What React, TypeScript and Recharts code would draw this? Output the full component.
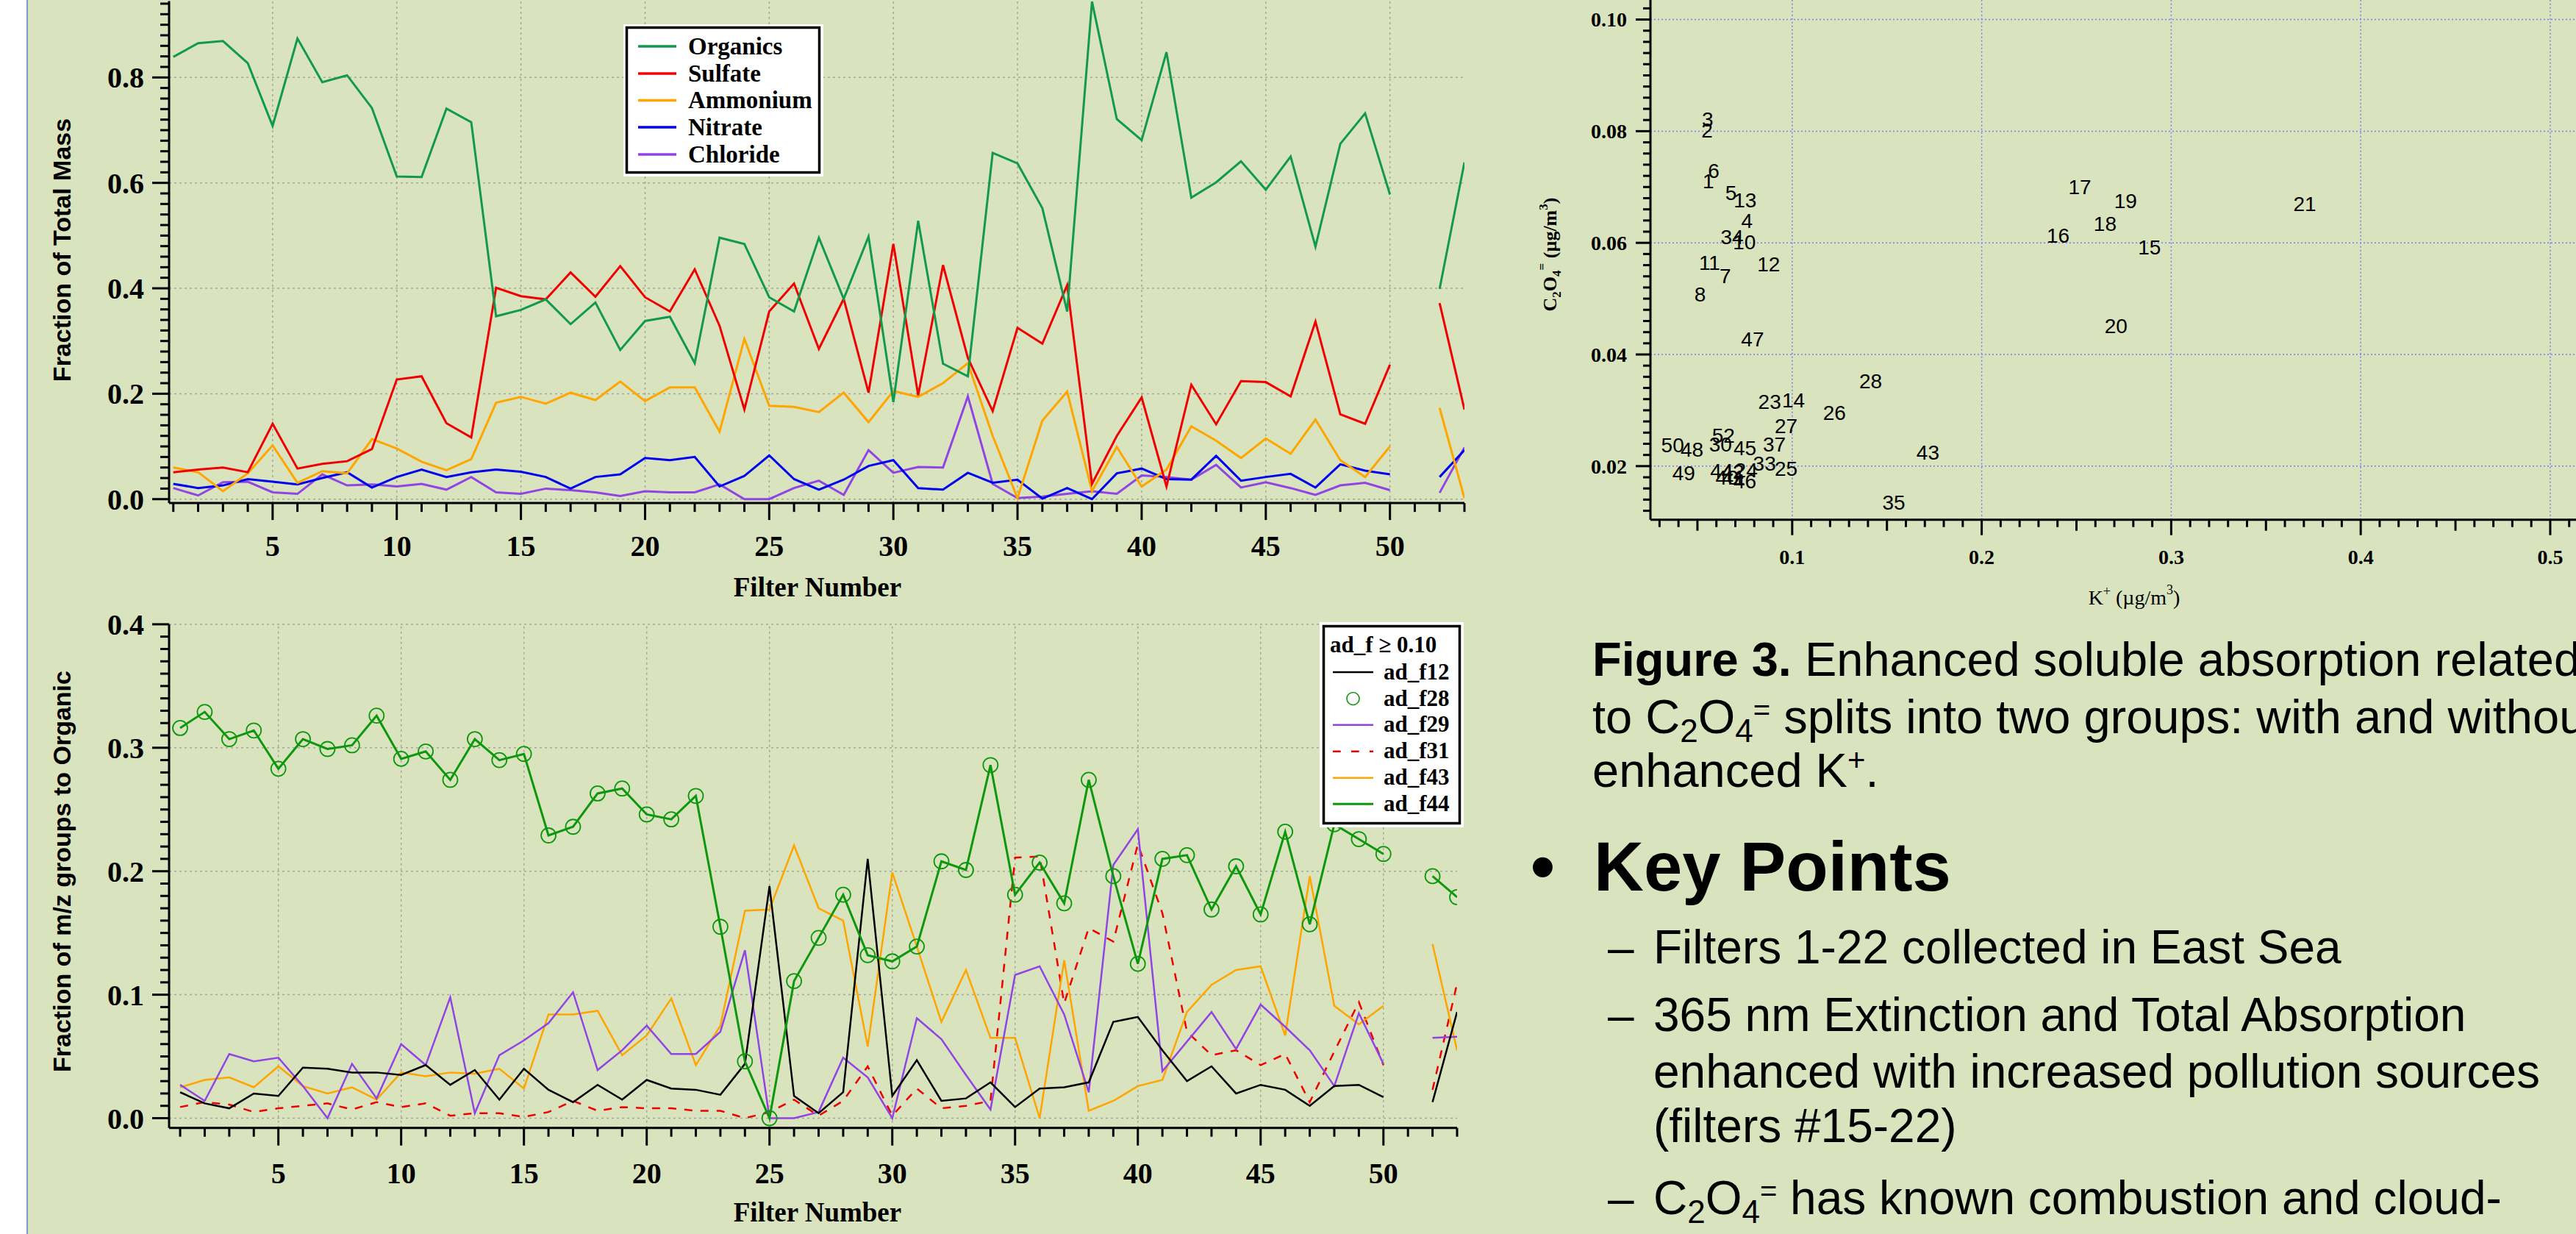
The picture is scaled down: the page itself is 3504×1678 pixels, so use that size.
import React from 'react';
import { ComposedChart, Line, XAxis, YAxis, ReferenceLine, ScatterChart, Scatter } from 'recharts';

const BG = '#d9e4be';
const SERIF = '"Liberation Serif", "Times New Roman", serif';
const SANS = '"Liberation Sans", Arial, sans-serif';

// ---------- data: top chart (fraction of total mass) ----------
const filterNumbers = [1,2,3,4,5,6,7,8,9,10,11,12,13,14,15,16,17,18,19,20,21,22,23,24,25,26,27,28,29,30,31,32,33,34,35,36,37,38,39,40,41,42,43,44,45,46,47,48,49,50,51,52,53];
const organics = [0.839,0.865,0.869,0.827,0.708,0.874,0.791,0.804,0.742,0.612,0.611,0.741,0.715,0.347,0.359,0.379,0.332,0.373,0.283,0.338,0.346,0.258,0.496,0.484,0.383,0.356,0.496,0.380,0.498,0.184,0.528,0.257,0.233,0.657,0.637,0.552,0.356,0.944,0.721,0.681,0.848,0.572,0.601,0.641,0.587,0.650,0.479,0.674,0.732,0.578,null,0.399,0.639];
const sulfate = [0.051,0.056,0.060,0.051,0.143,0.058,0.067,0.072,0.095,0.227,0.233,0.144,0.117,0.401,0.385,0.379,0.430,0.384,0.442,0.383,0.356,0.436,0.329,0.170,0.356,0.409,0.285,0.380,0.202,0.484,0.197,0.444,0.268,0.167,0.325,0.295,0.406,0.029,0.120,0.193,0.024,0.217,0.142,0.224,0.222,0.195,0.337,0.161,0.143,0.255,null,0.372,0.170];
const ammonium = [0.060,0.051,0.015,0.049,0.102,0.031,0.053,0.049,0.114,0.096,0.071,0.055,0.076,0.183,0.194,0.181,0.202,0.188,0.223,0.186,0.212,0.212,0.128,0.304,0.177,0.175,0.165,0.202,0.146,0.205,0.194,0.220,0.258,0.120,0.002,0.149,0.204,0.015,0.099,0.024,0.056,0.138,0.111,0.078,0.115,0.086,0.151,0.074,0.042,0.100,null,0.173,0.002];
const nitrate = [0.029,0.021,0.026,0.038,0.033,0.028,0.040,0.051,0.022,0.042,0.056,0.042,0.051,0.056,0.052,0.042,0.020,0.042,0.047,0.078,0.074,0.080,0.024,0.044,0.083,0.038,0.018,0.037,0.063,0.074,0.021,0.018,0.050,0.031,0.037,0.001,0.021,0.000,0.049,0.058,0.038,0.037,0.082,0.035,0.042,0.048,0.022,0.066,0.054,0.047,null,0.042,0.093];
const chloride = [0.021,0.007,0.032,0.033,0.013,0.010,0.047,0.026,0.028,0.024,0.029,0.018,0.042,0.013,0.010,0.020,0.017,0.013,0.006,0.015,0.013,0.013,0.028,0.000,0.000,0.021,0.035,0.008,0.093,0.050,0.061,0.060,0.195,0.029,0.002,0.005,0.010,0.015,0.010,0.045,0.042,0.037,0.065,0.022,0.032,0.021,0.008,0.026,0.031,0.017,null,0.012,0.098];

// ---------- data: bottom chart (fraction of m/z groups to organic) ----------
const adF12 = [0.021,0.012,0.008,0.020,0.018,0.041,0.040,0.037,0.037,0.035,0.043,0.027,0.039,0.015,0.040,0.023,0.013,0.027,0.015,0.031,0.024,0.023,0.019,0.044,0.188,0.018,0.004,0.021,0.210,0.018,0.047,0.014,0.016,0.029,0.009,0.024,0.025,0.029,0.078,0.082,0.055,0.030,0.042,0.020,0.027,0.023,0.010,0.026,0.027,0.017,null,0.013,0.086];
const adF28 = [0.316,0.329,0.307,0.314,0.283,0.307,0.299,0.302,0.326,0.291,0.297,0.274,0.307,0.290,0.295,0.229,0.236,0.263,0.267,0.246,0.242,0.261,0.155,0.046,0.000,0.111,0.146,0.181,0.132,0.127,0.139,0.208,0.201,0.286,0.181,0.207,0.174,0.274,0.196,0.125,0.210,0.213,0.169,0.204,0.165,0.232,0.157,0.238,0.226,0.214,null,0.196,0.179];
const adF29 = [0.027,0.014,0.052,0.046,0.049,0.026,0.000,0.044,0.016,0.060,0.043,0.098,0.004,0.051,0.063,0.077,0.102,0.039,0.055,0.075,0.052,0.052,0.070,0.136,0.000,0.000,0.005,0.049,0.033,0.000,0.081,0.064,0.035,0.007,0.116,0.123,0.084,0.021,0.205,0.234,0.038,0.062,0.086,0.056,0.092,0.074,0.055,0.026,0.085,0.044,null,0.065,0.066];
const adF31 = [0.009,0.013,0.011,0.005,0.008,0.010,0.012,0.007,0.013,0.009,0.012,0.002,0.004,0.004,0.001,0.005,0.014,0.006,0.009,0.008,0.008,0.006,0.006,0.000,0.005,0.015,0.002,0.014,0.042,0.002,0.024,0.008,0.010,0.014,0.211,0.212,0.093,0.154,0.143,0.222,0.166,0.070,0.051,0.055,0.043,0.052,0.013,0.054,0.094,0.043,null,0.023,0.109];
const adF43 = [0.025,0.031,0.033,0.025,0.042,0.026,0.020,0.025,0.015,0.037,0.034,0.037,0.036,0.040,0.024,0.084,0.084,0.087,0.051,0.067,0.097,0.043,0.075,0.168,0.169,0.221,0.170,0.160,0.058,0.199,0.139,0.078,0.120,0.065,0.065,0.000,0.128,0.006,0.014,0.026,0.031,0.086,0.108,0.120,0.123,0.067,0.196,0.091,0.076,0.091,null,0.141,0.055];
const adF44 = [0.316,0.329,0.307,0.314,0.283,0.307,0.299,0.302,0.326,0.291,0.297,0.274,0.307,0.290,0.295,0.229,0.236,0.263,0.267,0.246,0.242,0.261,0.155,0.046,0.000,0.111,0.146,0.181,0.132,0.127,0.139,0.208,0.201,0.286,0.181,0.207,0.174,0.274,0.196,0.125,0.210,0.213,0.169,0.204,0.165,0.232,0.157,0.238,0.226,0.214,null,0.196,0.179];

// ---------- data: scatter (C2O4= vs K+) ----------
const scatterLabels = ['1','2','3','4','5','6','7','8','10','11','12','13','14','15','16','17','18','19','20','21','23','24','25','26','27','28','30','33','34','35','37','40','41','42','43','44','45','46','47','48','49','50','52'];
const kPlus = [0.0558,0.0551,0.0554,0.0761,0.0677,0.0586,0.0647,0.0514,0.0748,0.0564,0.0876,0.0752,0.1007,0.2885,0.2403,0.2518,0.2651,0.2759,0.2709,0.3705,0.0881,0.0757,0.0968,0.1223,0.0968,0.1414,0.0622,0.0854,0.0683,0.1536,0.0906,0.0656,0.0691,0.0687,0.1716,0.0628,0.0751,0.0751,0.0791,0.0471,0.0428,0.0369,0.0637];
const oxalate = [0.0711,0.0802,0.0822,0.0640,0.0690,0.0730,0.0541,0.0508,0.0602,0.0565,0.0562,0.0677,0.0319,0.0593,0.0614,0.0701,0.0634,0.0676,0.0452,0.0670,0.0316,0.0193,0.0196,0.0296,0.0272,0.0353,0.0240,0.0205,0.0611,0.0135,0.0240,0.0180,0.0180,0.0191,0.0225,0.0192,0.0233,0.0173,0.0428,0.0230,0.0188,0.0238,0.0255];

// ---------- tick labels ----------
const topYMajor = [0, 0.2, 0.4, 0.6, 0.8];
const botYMajor = [0, 0.1, 0.2, 0.3, 0.4];
const filterMajor = [5, 10, 15, 20, 25, 30, 35, 40, 45, 50];
const scatYMajor = [0.02, 0.04, 0.06, 0.08, 0.1];
const scatXMajor = [0.1, 0.2, 0.3, 0.4, 0.5];
const scatXMid = [0.05, 0.15, 0.25, 0.35, 0.45];

const topYTicks = Array.from({ length: 48 }, (_, i) => Math.round(i * 2) / 100);
const botYTicks = Array.from({ length: 41 }, (_, i) => i / 100);
const scatYTicks = Array.from({ length: 46 }, (_, i) => (12 + 2 * i) / 1000);
const scatXTicks = Array.from({ length: 49 }, (_, i) => (3 + i) / 100);

const topData = filterNumbers.map((f, i) => ({ f, organics: organics[i], sulfate: sulfate[i], ammonium: ammonium[i], nitrate: nitrate[i], chloride: chloride[i] }));
const botData = filterNumbers.map((f, i) => ({ f, f12: adF12[i], f28: adF28[i], f29: adF29[i], f31: adF31[i], f43: adF43[i], f44: adF44[i] }));
const scatData = scatterLabels.map((label, i) => ({ label, k: kPlus[i], c: oxalate[i] }));

const has = (arr: number[] | undefined, v: number) => !!arr && arr.some((m) => Math.abs(m - v) < 1e-7);

type Cfg = { majors: number[]; mids?: number[]; majorLen: number; midLen?: number; minorLen: number; gap: number; fontSize: number; fmt: (v: number) => string };

const makeYTick = (cfg: Cfg) => (props: any) => {
  const { x, y, payload } = props;
  const v = payload.value as number;
  const major = has(cfg.majors, v);
  const mid = has(cfg.mids, v);
  const len = major ? cfg.majorLen : mid ? (cfg.midLen || cfg.minorLen) : cfg.minorLen;
  return (
    <g>
      <line x1={x - len} x2={x} y1={y} y2={y} stroke="#000" strokeWidth={3} />
      {major && (
        <text x={x - cfg.gap} y={y} dy="0.35em" textAnchor="end" fontFamily={SERIF} fontWeight="bold" fontSize={cfg.fontSize} fill="#000">
          {cfg.fmt(v)}
        </text>
      )}
    </g>
  );
};

const makeXTick = (cfg: Cfg) => (props: any) => {
  const { x, y, payload } = props;
  const v = payload.value as number;
  const major = has(cfg.majors, v);
  const mid = has(cfg.mids, v);
  const len = major ? cfg.majorLen : mid ? (cfg.midLen || cfg.minorLen) : cfg.minorLen;
  return (
    <g>
      <line x1={x} x2={x} y1={y} y2={y + len} stroke="#000" strokeWidth={3} />
      {major && (
        <text x={x} y={y + cfg.gap} dy="0.35em" textAnchor="middle" fontFamily={SERIF} fontWeight="bold" fontSize={cfg.fontSize} fill="#000">
          {cfg.fmt(v)}
        </text>
      )}
    </g>
  );
};

const topYTick = makeYTick({ majors: topYMajor, majorLen: 23, minorLen: 12, gap: 34, fontSize: 40, fmt: (v) => v.toFixed(1) });
const botYTick = makeYTick({ majors: botYMajor, majorLen: 23, minorLen: 12, gap: 34, fontSize: 40, fmt: (v) => v.toFixed(1) });
const filterTickTop = makeXTick({ majors: filterMajor, majorLen: 23, minorLen: 12, gap: 58, fontSize: 40, fmt: (v) => String(v) });
const filterTickBot = makeXTick({ majors: filterMajor, majorLen: 24, minorLen: 12, gap: 61, fontSize: 40, fmt: (v) => String(v) });
const scatYTick = makeYTick({ majors: scatYMajor, majorLen: 20, minorLen: 10, gap: 32, fontSize: 28, fmt: (v) => v.toFixed(2) });
const scatXTick = makeXTick({ majors: scatXMajor, mids: scatXMid, majorLen: 21, midLen: 15, minorLen: 10, gap: 50, fontSize: 28, fmt: (v) => v.toFixed(1) });

const grayGrid = { stroke: '#a3a89a', strokeDasharray: '3 4', strokeWidth: 1.5 };
const blueGrid = { stroke: '#7c7cf2', strokeDasharray: '2 3', strokeWidth: 1.5 };
const axisLine = { stroke: '#000', strokeWidth: 3 };

const C_ORG = '#13994e';
const C_RED = '#f00000';
const C_ORANGE = '#ffa500';
const C_BLUE = '#0000f0';
const C_PURPLE = '#9144e4';
const C_GREEN = '#0d970d';

const LabelShape = (p: any) => (
  <text x={p.cx} y={p.cy} dy="0.36em" textAnchor="middle" fontFamily={SANS} fontSize={28} fill="#000">
    {p.payload.label}
  </text>
);

const Sub = ({ children, size, shift }: any) => (
  <tspan fontSize={size} dy={shift}>{children}</tspan>
);

export default function App() {
  const topLegend = [
    { name: 'Organics', color: C_ORG },
    { name: 'Sulfate', color: C_RED },
    { name: 'Ammonium', color: C_ORANGE },
    { name: 'Nitrate', color: C_BLUE },
    { name: 'Chloride', color: C_PURPLE },
  ];
  const topLegendY = [63, 100, 136.5, 173, 210];
  const botLegendY = [914, 950, 985.7, 1021.7, 1057.7, 1093.3];
  return (
    <div style={{ position: 'absolute', left: 0, top: 0, width: 3504, height: 1678, background: BG, overflow: 'hidden' }}>
      {/* top chart */}
      <div style={{ position: 'absolute', left: 0, top: 0 }}>
        <ComposedChart width={2000} height={830} data={topData} margin={{ top: 1.4, right: 8, left: 0, bottom: 0 }}>
          <XAxis dataKey="f" type="number" domain={[0.83, 53]} allowDataOverflow ticks={filterNumbers} interval={0} tickSize={0} tickMargin={0} tick={filterTickTop} axisLine={axisLine} tickLine={false} height={145.9} />
          <YAxis type="number" domain={[-0.0075, 0.945]} allowDataOverflow ticks={topYTicks} interval={0} tickSize={0} tickMargin={0} tick={topYTick} axisLine={axisLine} tickLine={false} width={230} />
          {filterMajor.map((v) => <ReferenceLine key={'tx' + v} x={v} {...grayGrid} />)}
          {topYMajor.map((v) => <ReferenceLine key={'ty' + v} y={v} {...grayGrid} />)}
          <Line dataKey="chloride" stroke={C_PURPLE} strokeWidth={3} dot={false} isAnimationActive={false} type="linear" />
          <Line dataKey="nitrate" stroke={C_BLUE} strokeWidth={3} dot={false} isAnimationActive={false} type="linear" />
          <Line dataKey="ammonium" stroke={C_ORANGE} strokeWidth={3} dot={false} isAnimationActive={false} type="linear" />
          <Line dataKey="sulfate" stroke={C_RED} strokeWidth={3} dot={false} isAnimationActive={false} type="linear" />
          <Line dataKey="organics" stroke={C_ORG} strokeWidth={3} dot={false} isAnimationActive={false} type="linear" />
        </ComposedChart>
      </div>

      {/* bottom chart */}
      <div style={{ position: 'absolute', left: 0, top: 800 }}>
        <ComposedChart width={2000} height={878} data={botData} margin={{ top: 48.9, right: 18, left: 0, bottom: 0 }}>
          <XAxis dataKey="f" type="number" domain={[0.55, 53]} allowDataOverflow ticks={filterNumbers} interval={0} tickSize={0} tickMargin={0} tick={filterTickBot} axisLine={axisLine} tickLine={false} height={144.3} />
          <YAxis type="number" domain={[-0.00786, 0.4]} allowDataOverflow ticks={botYTicks} interval={0} tickSize={0} tickMargin={0} tick={botYTick} axisLine={axisLine} tickLine={false} width={230} />
          {filterMajor.map((v) => <ReferenceLine key={'bx' + v} x={v} {...grayGrid} />)}
          {botYMajor.map((v) => <ReferenceLine key={'by' + v} y={v} {...grayGrid} />)}
          <Line dataKey="f31" stroke={C_RED} strokeWidth={2.5} strokeDasharray="11 11" dot={false} isAnimationActive={false} type="linear" />
          <Line dataKey="f43" stroke={C_ORANGE} strokeWidth={2.5} dot={false} isAnimationActive={false} type="linear" />
          <Line dataKey="f29" stroke={C_PURPLE} strokeWidth={2.5} dot={false} isAnimationActive={false} type="linear" />
          <Line dataKey="f12" stroke="#000" strokeWidth={2.5} dot={false} isAnimationActive={false} type="linear" />
          <Line dataKey="f44" stroke={C_GREEN} strokeWidth={3} dot={false} isAnimationActive={false} type="linear" />
          <Line dataKey="f28" stroke="none" dot={{ r: 10, stroke: C_GREEN, strokeWidth: 1.8, fill: 'none' }} isAnimationActive={false} type="linear" />
        </ComposedChart>
      </div>

      {/* scatter */}
      <div style={{ position: 'absolute', left: 2000, top: 0 }}>
        <ScatterChart width={1504} height={830} margin={{ top: 0, right: 0, left: 0, bottom: 0 }}>
          <XAxis dataKey="k" type="number" domain={[0.0252, 0.5136]} allowDataOverflow ticks={scatXTicks} interval={0} tickSize={0} tickMargin={0} tick={scatXTick} axisLine={axisLine} tickLine={false} height={123.3} />
          <YAxis dataKey="c" type="number" domain={[0.0104, 0.1035]} allowDataOverflow ticks={scatYTicks} interval={0} tickSize={0} tickMargin={0} tick={scatYTick} axisLine={axisLine} tickLine={false} width={245} />
          {scatXMajor.map((v) => <ReferenceLine key={'sx' + v} x={v} {...blueGrid} />)}
          {scatYMajor.map((v) => <ReferenceLine key={'sy' + v} y={v} {...blueGrid} />)}
          <Scatter data={scatData} shape={LabelShape} isAnimationActive={false} />
        </ScatterChart>
      </div>

      {/* overlay: frame, titles, legends, text */}
      <svg width={3504} height={1678} style={{ position: 'absolute', left: 0, top: 0, pointerEvents: 'none' }}>
        <rect x={0} y={0} width={36} height={1678} fill="#ffffff" />
        <line x1={37} x2={37} y1={0} y2={1678} stroke="#7b9bcb" strokeWidth={2} />

        {/* axis titles */}
        <text x={1112} y={811} textAnchor="middle" fontFamily={SERIF} fontWeight="bold" fontSize={37}>Filter Number</text>
        <text x={1112} y={1661} textAnchor="middle" fontFamily={SERIF} fontWeight="bold" fontSize={37}>Filter Number</text>
        <text transform="translate(96,340) rotate(-90)" textAnchor="middle" fontFamily={SANS} fontWeight="bold" fontSize={34}>Fraction of Total Mass</text>
        <text transform="translate(96,1185) rotate(-90)" textAnchor="middle" fontFamily={SANS} fontWeight="bold" fontSize={34}>Fraction of m/z groups to Organic</text>

        {/* top legend */}
        <rect x={848} y={33} width={272} height={207} fill="#ffffff" />
        <rect x={852.5} y={37.5} width={262} height={197} fill="#ffffff" stroke="#000" strokeWidth={3.5} />
        {topLegend.map((it, i) => (
          <g key={it.name}>
            <line x1={868} x2={920} y1={topLegendY[i]} y2={topLegendY[i]} stroke={it.color} strokeWidth={3.5} />
            <text x={936} y={topLegendY[i] + 10.5} fontFamily={SERIF} fontWeight="bold" fontSize={33}>{it.name}</text>
          </g>
        ))}

        {/* bottom legend */}
        <rect x={1795} y={846} width={196} height={279} fill="#ffffff" />
        <rect x={1800.5} y={851.5} width={185} height={268} fill="#ffffff" stroke="#000" strokeWidth={3.5} />
        <text x={1809} y={887} fontFamily={SERIF} fontWeight="bold" fontSize={31}>ad_f ≥ 0.10</text>
        <line x1={1813} x2={1868} y1={botLegendY[0]} y2={botLegendY[0]} stroke="#000" strokeWidth={2.5} />
        <circle cx={1840.5} cy={botLegendY[1]} r={8.5} fill="none" stroke={C_GREEN} strokeWidth={1.6} />
        <line x1={1813} x2={1868} y1={botLegendY[2]} y2={botLegendY[2]} stroke={C_PURPLE} strokeWidth={2.5} />
        <line x1={1813} x2={1868} y1={botLegendY[3]} y2={botLegendY[3]} stroke={C_RED} strokeWidth={2.5} strokeDasharray="10.7 14.3" />
        <line x1={1813} x2={1868} y1={botLegendY[4]} y2={botLegendY[4]} stroke={C_ORANGE} strokeWidth={2.5} />
        <line x1={1813} x2={1868} y1={botLegendY[5]} y2={botLegendY[5]} stroke={C_GREEN} strokeWidth={3} />
        {['ad_f12', 'ad_f28', 'ad_f29', 'ad_f31', 'ad_f43', 'ad_f44'].map((t, i) => (
          <text key={t} x={1882} y={botLegendY[i] + 9.5} fontFamily={SERIF} fontWeight="bold" fontSize={31}>{t}</text>
        ))}

        {/* scatter axis titles */}
        <text transform="translate(2117,346) rotate(-90)" textAnchor="middle" fontFamily={SERIF} fontWeight="bold" fontSize={26}>
          C<Sub size={17} shift={6}>2</Sub><tspan dy={-6}>O</tspan><Sub size={17} shift={6}>4</Sub><Sub size={17} shift={-20}>=</Sub><tspan dy={14}>{'  (µg/m'}</tspan><Sub size={17} shift={-12}>3</Sub><tspan dy={12}>)</tspan>
        </text>
        <text x={2903} y={822} textAnchor="middle" fontFamily={SERIF} fontSize={28}>
          K<Sub size={18} shift={-12}>+</Sub><tspan dy={12}>{' (µg/m'}</tspan><Sub size={18} shift={-14}>3</Sub><tspan dy={14}>)</tspan>
        </text>

        {/* caption */}
        <text x={2166} y={919} fontFamily={SANS} fontSize={65}>
          <tspan fontWeight="bold">Figure 3.</tspan>{'  Enhanced soluble absorption related'}
        </text>
        <text x={2166} y={997} fontFamily={SANS} fontSize={65}>
          to C<Sub size={44} shift={12}>2</Sub><tspan dy={-12}>O</tspan><Sub size={44} shift={12}>4</Sub><Sub size={40} shift={-30}>=</Sub><tspan dy={18}>{' splits into two groups: with and without'}</tspan>
        </text>
        <text x={2166} y={1070} fontFamily={SANS} fontSize={65}>
          enhanced K<Sub size={42} shift={-22}>+</Sub><tspan dy={22}>.</tspan>
        </text>

        {/* key points */}
        <text x={2082} y={1211} fontFamily={SANS} fontWeight="bold" fontSize={94}>•</text>
        <text x={2168} y={1211} fontFamily={SANS} fontWeight="bold" fontSize={94}>Key Points</text>

        <text x={2187} y={1310} fontFamily={SANS} fontSize={64}>–</text>
        <text x={2249} y={1310} fontFamily={SANS} fontSize={64}>Filters 1-22 collected in East Sea</text>
        <text x={2187} y={1402} fontFamily={SANS} fontSize={64}>–</text>
        <text x={2249} y={1402} fontFamily={SANS} fontSize={64}>365 nm Extinction and Total Absorption</text>
        <text x={2249} y={1479} fontFamily={SANS} fontSize={64}>enhanced with increased pollution sources</text>
        <text x={2249} y={1553} fontFamily={SANS} fontSize={64}>(filters #15-22)</text>
        <text x={2187} y={1651} fontFamily={SANS} fontSize={64}>–</text>
        <text x={2249} y={1651} fontFamily={SANS} fontSize={64}>
          C<Sub size={44} shift={12}>2</Sub><tspan dy={-12}>O</tspan><Sub size={44} shift={12}>4</Sub><Sub size={40} shift={-30}>=</Sub><tspan dy={18}>{' has known combustion and cloud-'}</tspan>
        </text>
      </svg>
    </div>
  );
}
